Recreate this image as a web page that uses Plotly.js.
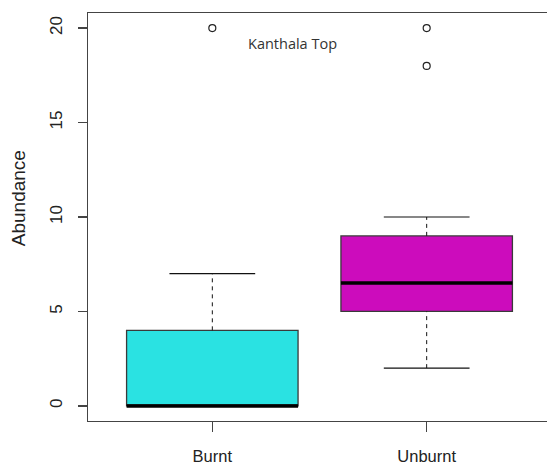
<!DOCTYPE html>
<html><head><meta charset="utf-8">
<script src="https://cdn.plot.ly/plotly-3.0.1.min.js"></script>
<style>html,body{margin:0;padding:0;overflow:hidden;background:#fff}</style>
</head><body><div id="chart"></div>
<script>
const categories = ["Burnt", "Unburnt"];
const positions = [1, 2];
const lowerWhisker = [0, 2];
const q1 = [0, 5];
const median = [0, 6.5];
const q3 = [4, 9];
const upperWhisker = [7, 10];
const outlierX = [1, 2, 2];
const outlierY = [20, 20, 18];
const fillColors = ["#2AE2E2", "#CC0CBC"];
const yTicks = [0, 5, 10, 15, 20];
const titleText = "Kanthala Top";
const yTitle = "Abundance";

const boxW = 0.8, stapleW = 0.4;
const traces = [];
positions.forEach((p, i) => {
  traces.push({
    type: 'box', x: [p], q1: [q1[i]], median: [median[i]], q3: [q3[i]],
    lowerfence: [q1[i]], upperfence: [q3[i]], width: boxW,
    fillcolor: fillColors[i], line: {color: '#3a3a3a', width: 1.3},
    whiskerwidth: 0, boxpoints: false, hoverinfo: 'skip', showlegend: false
  });
  traces.push({type: 'scatter', mode: 'lines', x: [p, p], y: [q3[i], upperWhisker[i]],
    line: {color: '#111', width: 1, dash: '4px,4px'}, showlegend: false, hoverinfo: 'skip'});
  traces.push({type: 'scatter', mode: 'lines', x: [p, p], y: [lowerWhisker[i], q1[i]],
    line: {color: '#111', width: 1, dash: '4px,4px'}, showlegend: false, hoverinfo: 'skip'});
  traces.push({type: 'scatter', mode: 'lines', x: [p - stapleW/2, p + stapleW/2], y: [upperWhisker[i], upperWhisker[i]],
    line: {color: '#111', width: 1.2}, showlegend: false, hoverinfo: 'skip'});
  traces.push({type: 'scatter', mode: 'lines', x: [p - stapleW/2, p + stapleW/2], y: [lowerWhisker[i], lowerWhisker[i]],
    line: {color: '#111', width: 1.2}, showlegend: false, hoverinfo: 'skip'});
  traces.push({type: 'scatter', mode: 'lines', x: [p - boxW/2, p + boxW/2], y: [median[i], median[i]],
    line: {color: '#000', width: 3.5}, showlegend: false, hoverinfo: 'skip'});
});
traces.push({type: 'scatter', mode: 'markers', x: outlierX, y: outlierY,
  marker: {symbol: 'circle-open', size: 7, color: '#222', line: {width: 1.2}}, showlegend: false});

const layout = {
  width: 551, height: 467,
  margin: {l: 88, r: 0, t: 13, b: 46},
  paper_bgcolor: '#fff', plot_bgcolor: '#fff',
  xaxis: {
    range: [0.42, 2.58], tickvals: positions, ticktext: categories,
    showline: true, mirror: true, linecolor: '#444', linewidth: 1.3,
    ticks: 'outside', ticklen: 10, tickcolor: '#444', tickwidth: 1.3, ticklabelstandoff: 10,
    showgrid: false, zeroline: false,
    tickfont: {family: 'Liberation Sans, Arial, sans-serif', size: 16.5, color: '#222'}
  },
  yaxis: {
    range: [-0.8, 20.8], tickvals: yTicks, ticktext: yTicks.map(String),
    tickangle: -90, showline: true, mirror: true, linecolor: '#444', linewidth: 1.3,
    ticks: 'outside', ticklen: 9, tickcolor: '#444', tickwidth: 1.3, ticklabelstandoff: 9,
    showgrid: false, zeroline: false,
    tickfont: {family: 'Liberation Sans, Arial, sans-serif', size: 17, color: '#222'}
  },
  annotations: [
    {x: 1.375, y: 19.2, xref: 'x', yref: 'y', text: titleText, showarrow: false,
     font: {family: 'Open Sans, Noto Sans, sans-serif', size: 14.5, color: '#333'}},
    {x: 0, y: 0.546, xref: 'paper', yref: 'paper', xanchor: 'center', yanchor: 'middle',
     xshift: -70, textangle: -90, text: yTitle, showarrow: false,
     font: {family: 'Liberation Sans, Arial, sans-serif', size: 19, color: '#222'}}
  ]
};
Plotly.newPlot('chart', traces, layout, {staticPlot: true, displayModeBar: false});
</script></body></html>
